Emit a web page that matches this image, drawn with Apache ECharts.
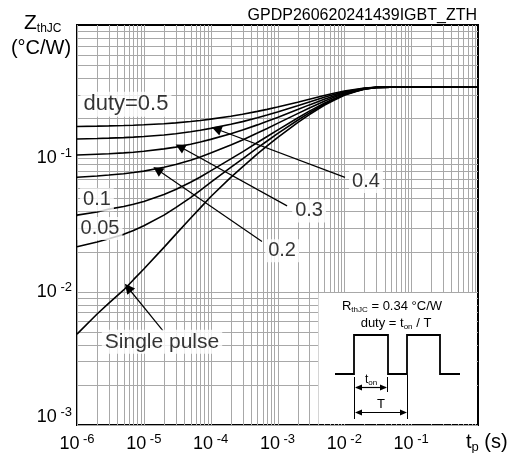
<!DOCTYPE html>
<html><head><meta charset="utf-8">
<script src="https://cdn.jsdelivr.net/npm/echarts@6/dist/echarts.min.js"></script>
<style>html,body{margin:0;padding:0;background:#fff}#c{width:515px;height:453px}</style>
</head><body><div id="c"></div>
<script>
// pulse width t_p (s)
const tp      = [1e-6, 2e-6, 3e-6, 5e-6, 7e-6, 1e-5, 2e-5, 3e-5, 5e-5, 7e-5, 1e-4, 2e-4, 3e-4, 5e-4, 7e-4, 1e-3, 2e-3, 3e-3, 5e-3, 7e-3, 1e-2, 1.5e-2, 2e-2, 3e-2, 5e-2, 1e-1, 1];
// Z_thJC (°C/W) per curve
const zD050   = [0.1734, 0.1744, 0.1751, 0.1762, 0.1772, 0.1784, 0.1818, 0.1845, 0.1888, 0.1923, 0.1968, 0.207, 0.2141, 0.225, 0.233, 0.2425, 0.2635, 0.2775, 0.296, 0.3075, 0.3195, 0.3295, 0.3365, 0.341, 0.342, 0.342, 0.342];
const zD040   = [0.1397, 0.1409, 0.1417, 0.1430, 0.1442, 0.1457, 0.1497, 0.1529, 0.1581, 0.1623, 0.1677, 0.1800, 0.1885, 0.2016, 0.2112, 0.2226, 0.2478, 0.2646, 0.2868, 0.3006, 0.315, 0.327, 0.3348, 0.3408, 0.342, 0.342, 0.342];
const zD030   = [0.1060, 0.1074, 0.1083, 0.1098, 0.1112, 0.1130, 0.1177, 0.1214, 0.1275, 0.1324, 0.1387, 0.153, 0.1629, 0.1782, 0.1894, 0.2027, 0.232, 0.2517, 0.2776, 0.2937, 0.3105, 0.3245, 0.3336, 0.3406, 0.342, 0.342, 0.342];
const zD020   = [0.0722, 0.0738, 0.0750, 0.0766, 0.0782, 0.0802, 0.0856, 0.0899, 0.0968, 0.1024, 0.1096, 0.126, 0.1374, 0.1548, 0.1676, 0.1828, 0.2164, 0.2388, 0.2684, 0.2868, 0.306, 0.322, 0.3324, 0.3404, 0.342, 0.342, 0.342];
const zD010   = [0.0375, 0.0396, 0.0416, 0.0435, 0.0453, 0.0475, 0.0536, 0.0584, 0.0662, 0.0725, 0.0806, 0.099, 0.1118, 0.1314, 0.1458, 0.1629, 0.2007, 0.2259, 0.2592, 0.2799, 0.3015, 0.3195, 0.3312, 0.3402, 0.342, 0.342, 0.342];
const zD005   = [0.0217, 0.0236, 0.0249, 0.0269, 0.0288, 0.0312, 0.0375, 0.0427, 0.0508, 0.0575, 0.0660, 0.0855, 0.099, 0.1197, 0.1349, 0.153, 0.1929, 0.2195, 0.2546, 0.2765, 0.2993, 0.3183, 0.3306, 0.3401, 0.342, 0.342, 0.342];
const zSingle = [0.0048, 0.0068, 0.0082, 0.0103, 0.0123, 0.0148, 0.0215, 0.0269, 0.0355, 0.0425, 0.0515, 0.072, 0.0862, 0.108, 0.124, 0.143, 0.185, 0.213, 0.250, 0.273, 0.297, 0.317, 0.330, 0.340, 0.342, 0.342, 0.342];

// axis tick exponents
const xTickExp = [-6, -5, -4, -3, -2, -1, 0];
const yTickExp = [-3, -2, -1, 0];

// curve labels (data coordinates)
const curveLabels = ['duty=0.5', '0.1', '0.05', '0.4', '0.3', '0.2', 'Single pulse'];
const labelT      = [5.4e-6, 1.99e-6, 2.21e-6, 0.0211, 2.97e-3, 1.17e-3, 1.87e-5];
const labelZ      = [0.255, 0.0490, 0.0298, 0.0671, 0.0403, 0.0203, 0.00421];

// pointer arrows: tail -> tip (0.4, 0.3, 0.2, single pulse)
const arrowTailT = [0.01023, 1.39e-3, 5.86e-4, 1.94e-5];
const arrowTailZ = [0.0719, 0.0440, 0.0238, 0.00509];
const arrowTipT  = [1.22e-4, 3.48e-5, 1.6e-5, 5.8e-6];
const arrowTipZ  = [0.166, 0.122, 0.082, 0.0107];

const FONT = '"Liberation Sans", Arial, Helvetica, sans-serif';
const chart = echarts.init(document.getElementById('c'), null, {renderer: 'canvas'});

const pair = z => tp.map((t, i) => [t, z[i]]);
const xMin = Math.pow(10, xTickExp[0]), xMax = Math.pow(10, xTickExp[xTickExp.length - 1]);
const yMin = Math.pow(10, yTickExp[0]), yMax = Math.pow(10, yTickExp[yTickExp.length - 1]);

const gridX = [], gridY = [];
for (let e = xTickExp[0]; e < xTickExp[xTickExp.length - 1]; e++)
  for (let m = 1; m <= 9; m++) gridX.push(m * Math.pow(10, e));
for (let e = yTickExp[0]; e < yTickExp[yTickExp.length - 1]; e++)
  for (let m = 1; m <= 9; m++) gridY.push(m * Math.pow(10, e));

function tickFmt(extraLine) {
  return function (v) {
    const e = Math.round(Math.log10(v));
    if (e === 0) return '';
    let s = '{b|10}{s| ' + e + '}';
    if (extraLine && e === yTickExp[0]) s += '\n{e| }';
    return s;
  };
}
const tickRich = {
  b: {fontSize: 18, fontFamily: FONT, color: '#000', lineHeight: 22},
  s: {fontSize: 13, fontFamily: FONT, color: '#000', verticalAlign: 'top', lineHeight: 14},
  e: {fontSize: 10, lineHeight: 16}
};

const GRID_COLOR = '#a8a8a8';
function gridLineItem(vertical) {
  return function (params, api) {
    const p1 = vertical ? api.coord([api.value(0), yMin]) : api.coord([xMin, api.value(1)]);
    const p2 = vertical ? api.coord([api.value(0), yMax]) : api.coord([xMax, api.value(1)]);
    if (vertical) { const x = Math.round(p1[0]) + 0.5; return {type: 'line', shape: {x1: x, y1: p1[1], x2: x, y2: p2[1]}, style: {stroke: GRID_COLOR, lineWidth: 1}}; }
    const y = Math.round(p1[1]) + 0.5;
    return {type: 'line', shape: {x1: p1[0], y1: y, x2: p2[0], y2: y}, style: {stroke: GRID_COLOR, lineWidth: 1}};
  };
}

const curveSeries = [zD050, zD040, zD030, zD020, zD010, zD005, zSingle].map(z => ({
  type: 'line', data: pair(z), showSymbol: false, symbol: 'none',
  smooth: false, z: 3, silent: true,
  lineStyle: {color: '#000', width: 1.6}
}));

const option = {
  animation: false,
  backgroundColor: '#fff',
  grid: {left: 77, top: 25, right: 37, bottom: 28, show: true, borderColor: '#000', borderWidth: 2, outerBoundsMode: 'none', containLabel: false},
  xAxis: {
    type: 'log', logBase: 10, min: xMin, max: xMax, interval: 1,
    axisLine: {show: false}, axisTick: {show: false}, splitLine: {show: false},
    axisLabel: {formatter: tickFmt(false), rich: tickRich, margin: 8, showMaxLabel: true, showMinLabel: true}
  },
  yAxis: {
    type: 'log', logBase: 10, min: yMin, max: yMax, interval: 1,
    axisLine: {show: false}, axisTick: {show: false}, splitLine: {show: false},
    axisLabel: {formatter: tickFmt(true), rich: tickRich, margin: 5, showMaxLabel: true, showMinLabel: true}
  },
  series: [
    {type: 'custom', silent: true, z: 1, data: gridX.map(v => [v, yMin]), encode: {x: 0, y: 1}, renderItem: gridLineItem(true)},
    {type: 'custom', silent: true, z: 1, data: gridY.map(v => [xMin, v]), encode: {x: 0, y: 1}, renderItem: gridLineItem(false)},
    ...curveSeries,
    {
      type: 'line', data: [], silent: true, z: 4,
      markLine: {
        silent: true, symbol: ['none', 'triangle'], symbolSize: 10, animation: false,
        label: {show: false}, emphasis: {disabled: true},
        lineStyle: {color: '#000', width: 1.2, type: 'solid'},
        data: arrowTailT.map((t, i) => [{coord: [t, arrowTailZ[i]]}, {coord: [arrowTipT[i], arrowTipZ[i]]}])
      }
    },
    {
      type: 'scatter', silent: true, z: 6, symbolSize: 0.1, itemStyle: {color: 'rgba(0,0,0,0)'},
      data: labelT.map((t, i) => ({
        value: [t, labelZ[i]],
        label: {formatter: curveLabels[i], fontSize: i === 0 ? 22 : (i === 6 ? 21 : 20)}
      })),
      label: {show: true, position: 'inside', color: '#000', fontFamily: FONT, backgroundColor: '#fff', padding: [2, 3, 1, 3]}
    }
  ],
  graphic: [
    {type: 'text', z: 50, x: 477, y: 24, style: {text: 'GPDP260620241439IGBT_ZTH', font: '16px ' + FONT, fill: '#000', align: 'right', textAlign: 'right', verticalAlign: 'bottom', textVerticalAlign: 'bottom'}},
    {type: 'text', z: 50, x: 24, y: 11, style: {text: '{z|Z}{s|thJC}', rich: {z: {fontSize: 21, fontFamily: FONT, lineHeight: 24}, s: {fontSize: 12, fontFamily: FONT, verticalAlign: 'bottom', lineHeight: 14}}, fill: '#000', align: 'left', textAlign: 'left', verticalAlign: 'top', textVerticalAlign: 'top'}},
    {type: 'text', z: 50, x: 41, y: 48, style: {text: '(°C/W)', font: '20px ' + FONT, fill: '#000', align: 'center', textAlign: 'center', verticalAlign: 'middle', textVerticalAlign: 'middle'}},
    {type: 'text', z: 50, x: 466, y: 442, style: {text: '{a|t}{s|p}{a| (s)}', rich: {a: {fontSize: 20, fontFamily: FONT, lineHeight: 24}, s: {fontSize: 13, fontFamily: FONT, verticalAlign: 'bottom', lineHeight: 14}}, fill: '#000', align: 'left', textAlign: 'left', verticalAlign: 'middle', textVerticalAlign: 'middle'}},
    {type: 'rect', z: 40, shape: {x: 318.5, y: 293, width: 158, height: 131}, style: {fill: '#fff'}},
    {type: 'text', z: 50, x: 392, y: 306, style: {text: '{a|R}{s|thJC}{a| = 0.34 °C/W}', rich: {a: {fontSize: 13, fontFamily: FONT, lineHeight: 15}, s: {fontSize: 8, fontFamily: FONT, verticalAlign: 'bottom', lineHeight: 9}}, fill: '#000', align: 'center', textAlign: 'center', verticalAlign: 'middle', textVerticalAlign: 'middle'}},
    {type: 'text', z: 50, x: 396, y: 323, style: {text: '{a|duty = t}{s|on}{a| / T}', rich: {a: {fontSize: 13, fontFamily: FONT, lineHeight: 15}, s: {fontSize: 8, fontFamily: FONT, verticalAlign: 'bottom', lineHeight: 9}}, fill: '#000', align: 'center', textAlign: 'center', verticalAlign: 'middle', textVerticalAlign: 'middle'}},
    {type: 'polyline', z: 50, shape: {points: [[335, 374], [354, 374], [354, 335], [388, 335], [388, 374], [407, 374], [407, 335], [440, 335], [440, 374], [460, 374]]}, style: {stroke: '#000', lineWidth: 1.8, fill: null}},
    {type: 'line', z: 50, shape: {x1: 354.5, y1: 377, x2: 354.5, y2: 419}, style: {stroke: '#000', lineWidth: 1}},
    {type: 'line', z: 50, shape: {x1: 387.5, y1: 377, x2: 387.5, y2: 392}, style: {stroke: '#000', lineWidth: 1}},
    {type: 'line', z: 50, shape: {x1: 407.5, y1: 375, x2: 407.5, y2: 419}, style: {stroke: '#000', lineWidth: 1}},
    {type: 'line', z: 50, shape: {x1: 356, y1: 387.5, x2: 386, y2: 387.5}, style: {stroke: '#000', lineWidth: 1.2}},
    {type: 'polygon', z: 50, shape: {points: [[355, 387.5], [362, 384.5], [362, 390.5]]}, style: {fill: '#000'}},
    {type: 'polygon', z: 50, shape: {points: [[387, 387.5], [380, 384.5], [380, 390.5]]}, style: {fill: '#000'}},
    {type: 'line', z: 50, shape: {x1: 356, y1: 412.5, x2: 406, y2: 412.5}, style: {stroke: '#000', lineWidth: 1.2}},
    {type: 'polygon', z: 50, shape: {points: [[355, 412.5], [362, 409.5], [362, 415.5]]}, style: {fill: '#000'}},
    {type: 'polygon', z: 50, shape: {points: [[407, 412.5], [400, 409.5], [400, 415.5]]}, style: {fill: '#000'}},
    {type: 'text', z: 50, x: 371, y: 380, style: {text: '{a|t}{s|on}', rich: {a: {fontSize: 12, fontFamily: FONT, lineHeight: 14}, s: {fontSize: 8, fontFamily: FONT, verticalAlign: 'bottom', lineHeight: 9}}, fill: '#000', align: 'center', textAlign: 'center', verticalAlign: 'middle', textVerticalAlign: 'middle'}},
    {type: 'text', z: 50, x: 381, y: 404, style: {text: 'T', font: '13px ' + FONT, fill: '#000', align: 'center', textAlign: 'center', verticalAlign: 'middle', textVerticalAlign: 'middle'}}
  ]
};
chart.setOption(option);
</script>
</body></html>
